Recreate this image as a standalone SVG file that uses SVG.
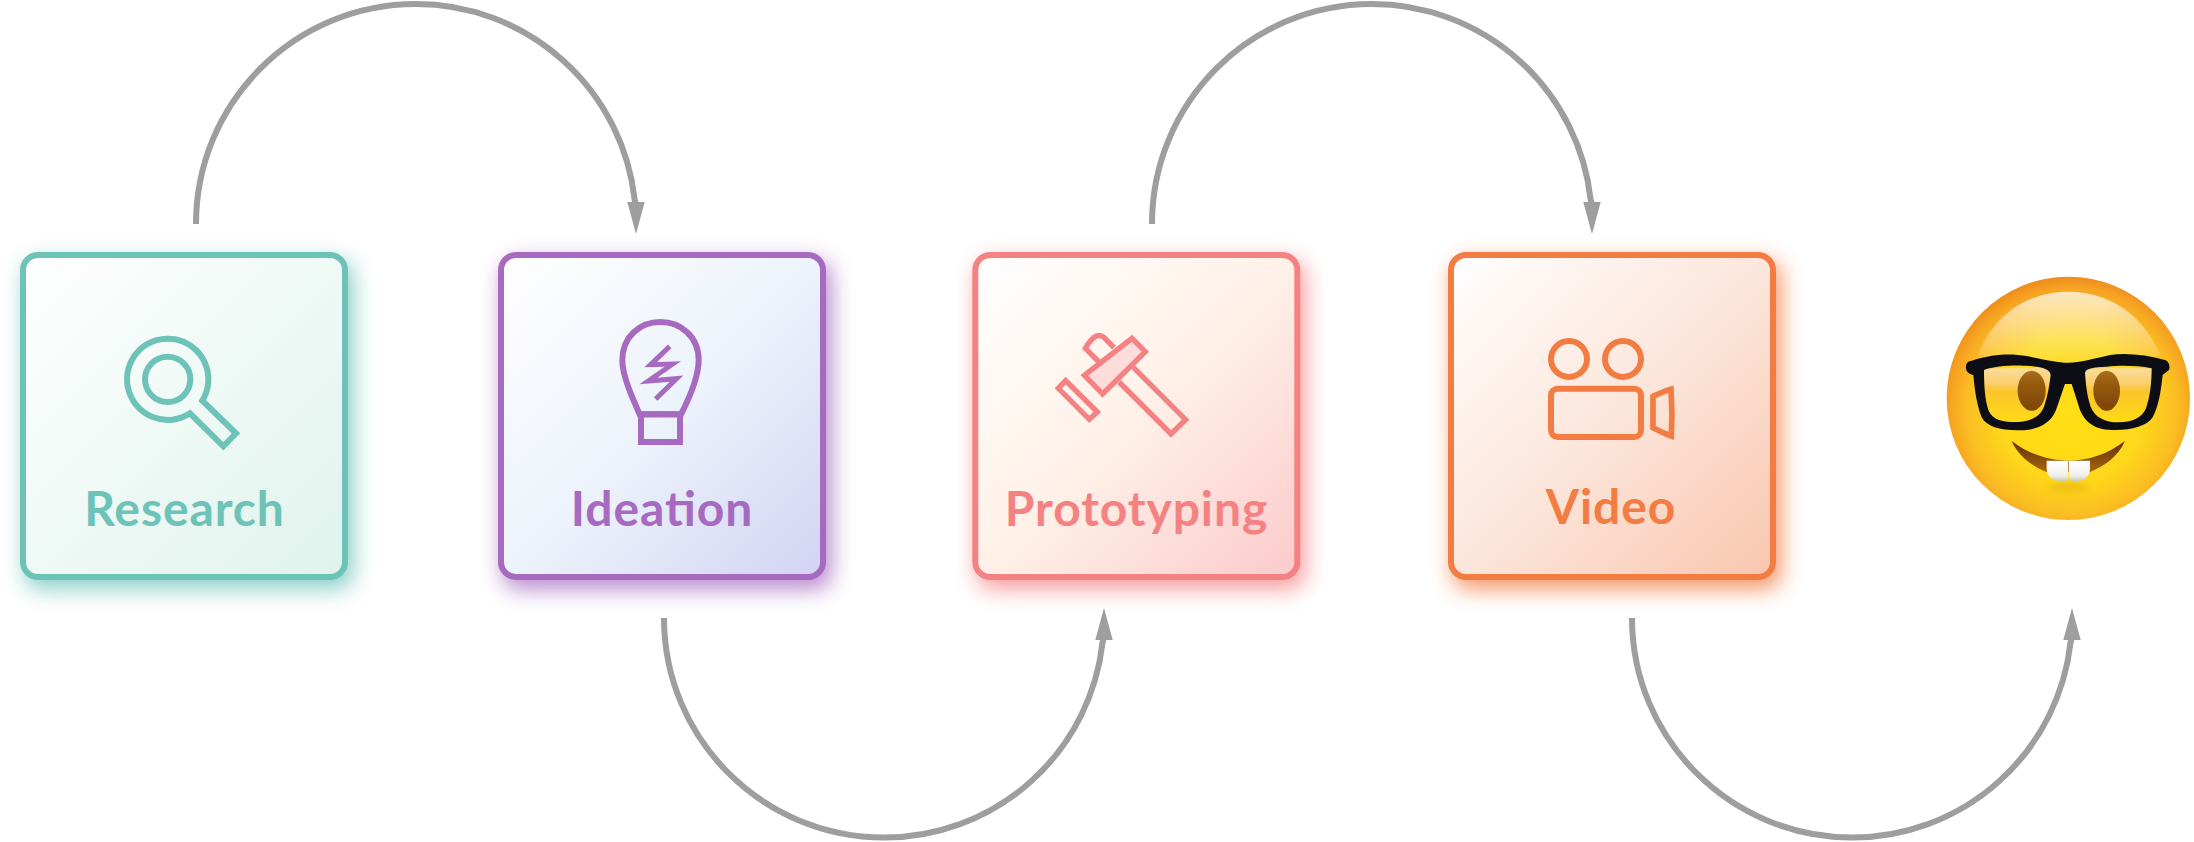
<svg xmlns="http://www.w3.org/2000/svg" width="2194" height="842" viewBox="0 0 2194 842">
<style>
.box{stroke-width:6}
.shadow{filter:url(#soft);opacity:.8}
.ico{fill:none;stroke-width:18;stroke-linejoin:miter}
.lbl{font-family:"Lato","Liberation Sans",sans-serif;font-weight:700;font-size:48px;letter-spacing:.9px;text-anchor:middle;font-feature-settings:"liga" 1}
.conn{fill:none;stroke:#9e9e9e;stroke-width:6}
.down{marker-end:url(#arrowDown)}
.up{marker-end:url(#arrowUp)}
</style>
<defs>
<filter id="soft" x="-20%" y="-20%" width="140%" height="140%"><feGaussianBlur stdDeviation="11"/></filter>
<filter id="soften" x="-5%" y="-5%" width="110%" height="110%"><feGaussianBlur stdDeviation="1.6"/></filter>
<filter id="glow" x="-30%" y="-100%" width="160%" height="300%"><feGaussianBlur stdDeviation="9"/></filter>
<marker id="arrowDown" markerUnits="userSpaceOnUse" markerWidth="36" markerHeight="20" refX="2" refY="8.7" orient="90"><path d="M0 0L32 8.7L0 17.4Z" fill="#9e9e9e"/></marker>
<marker id="arrowUp" markerUnits="userSpaceOnUse" markerWidth="36" markerHeight="20" refX="2" refY="8.7" orient="-90"><path d="M0 0L32 8.7L0 17.4Z" fill="#9e9e9e"/></marker>
<linearGradient id="g1" x1="0" y1="0" x2="1" y2="1"><stop offset="0" stop-color="#fff"/><stop offset="1" stop-color="#dff3ec"/></linearGradient>
<linearGradient id="g2" x1="0" y1="0" x2="1" y2="1"><stop offset="0" stop-color="#fff"/><stop offset=".5" stop-color="#edf3fb"/><stop offset="1" stop-color="#d2d3f3"/></linearGradient>
<linearGradient id="g3" x1="0" y1="0" x2="1" y2="1"><stop offset="0" stop-color="#fff"/><stop offset=".5" stop-color="#fff1e8"/><stop offset="1" stop-color="#fbcaca"/></linearGradient>
<linearGradient id="g4" x1="0" y1="0" x2="1" y2="1"><stop offset="0" stop-color="#fff"/><stop offset=".5" stop-color="#fce6db"/><stop offset="1" stop-color="#f9c6ae"/></linearGradient>
<radialGradient id="face" gradientUnits="userSpaceOnUse" cx="425" cy="450" r="395"><stop offset="0" stop-color="#ffdf16"/><stop offset=".55" stop-color="#fed81a"/><stop offset=".8" stop-color="#fbbd24"/><stop offset=".94" stop-color="#f6a020"/><stop offset="1" stop-color="#ef8f1f"/></radialGradient>
<linearGradient id="shine" x1="0" y1="0" x2="0" y2="1"><stop offset="0" stop-color="#fff" stop-opacity=".72"/><stop offset="1" stop-color="#fff" stop-opacity=".05"/></linearGradient>
<linearGradient id="lens" x1="0" y1="0" x2="0" y2="1"><stop offset="0" stop-color="#f9dc9a"/><stop offset=".28" stop-color="#fbcf6c"/><stop offset=".42" stop-color="#fbc52a"/><stop offset="1" stop-color="#fedb14"/></linearGradient>
<linearGradient id="mouth" x1="0" y1="0" x2="0" y2="1"><stop offset="0" stop-color="#5f2f05"/><stop offset="1" stop-color="#a8660f"/></linearGradient>
<linearGradient id="eye" x1="0" y1="0" x2="0" y2="1"><stop offset="0" stop-color="#a87020"/><stop offset=".35" stop-color="#96590c"/><stop offset="1" stop-color="#7c4604"/></linearGradient>
<linearGradient id="tooth" x1="0" y1="0" x2="0" y2="1"><stop offset="0" stop-color="#fff"/><stop offset=".7" stop-color="#f0f0ec"/><stop offset="1" stop-color="#c8c8c0"/></linearGradient>
</defs>
<g id="connectors">
<path class="conn down" d="M196 224C196 102.5 294.5 4 416 4A220 220 0 0 1 634.7 200L636 204"/>
<path class="conn up" d="M664 618C664 739.2 762.8 837.5 884 837.5A219.5 219.5 0 0 0 1102.6 642L1104 638"/>
<path class="conn down" d="M1152 224C1152 102.5 1250.5 4 1372 4A220 220 0 0 1 1590.7 200L1592 204"/>
<path class="conn up" d="M1632 618C1632 739.2 1730.8 837.5 1852 837.5A219.5 219.5 0 0 0 2070.6 642L2072 638"/>
</g>
<g id="research">
<rect class="shadow" x="25" y="261" width="328" height="328" rx="15" fill="#6dc3b8"/>
<rect class="box" x="23" y="255" width="322" height="322" rx="15" fill="url(#g1)" stroke="#6dc3b8"/>
<g transform="translate(0 230) scale(.33333)" class="ico" stroke="#6dc3b8">
<circle cx="503" cy="448" r="68"/>
<path d="M570 550A122 122 0 1 1 607 512L708 610L670 649Z"/>
</g>
<text class="lbl" x="184.5" y="526" fill="#6dc3b8">Research</text>
</g>
<g id="ideation">
<rect class="shadow" x="503" y="261" width="328" height="328" rx="15" fill="#a66bc0"/>
<rect class="box" x="501" y="255" width="322" height="322" rx="15" fill="url(#g2)" stroke="#a66bc0"/>
<g transform="translate(480 230) scale(.33333)" class="ico" stroke="#a66bc0">
<path d="M479 553C460 510 427 440 427 390C427 320 480 276 541 276C602 276 656 320 656 390C656 440 625 510 603 553Z"/>
<rect x="483" y="553" width="117" height="83"/>
<path style="stroke-width:15" d="M569 349L512 404L578 402L505 453L590 446L527 507"/>
</g>
<text class="lbl" x="662" y="526" fill="#a66bc0">Ideation</text>
</g>
<g id="prototyping">
<rect class="shadow" x="977" y="261" width="328" height="328" rx="15" fill="#f58283"/>
<rect class="box" x="975.3" y="255" width="322" height="322" rx="15" fill="url(#g3)" stroke="#f58283"/>
<g transform="translate(955 230) scale(.33333)" class="ico" stroke="#f58283">
<path style="stroke-width:16" d="M535 412L692 569L648 612L492 456"/>
<path style="stroke-width:16" d="M477 353L447 322Q435 312 420 320Q405 330 391 355L432 396"/>
<path style="stroke-width:16" fill="#fddcdc" d="M388 436L531 325L571 365L443 492Z"/>
<path style="stroke-width:16" d="M332 452L427 546L403 568L310 475Z"/>
</g>
<text class="lbl" x="1136.5" y="526" fill="#f58283">Prototyping</text>
</g>
<g id="video">
<rect class="shadow" x="1453" y="261" width="328" height="328" rx="15" fill="#f27c41"/>
<rect class="box" x="1451" y="255" width="322" height="322" rx="15" fill="url(#g4)" stroke="#f27c41"/>
<g transform="translate(1430 230) scale(.33333)" class="ico" stroke="#f27c41">
<circle cx="417" cy="387" r="54"/>
<circle cx="579" cy="387" r="54"/>
<rect x="363" y="476" width="270" height="145" rx="20"/>
<path style="stroke-width:17" d="M669 499Q700 485 723 478Q728 550 724 618Q695 607 669 593Z"/>
</g>
<text class="lbl" x="1611" y="524" fill="#f27c41">Video</text>
</g>
<g id="emoji" transform="translate(1930 260) scale(.33333)">
<g filter="url(#soften)">
<circle cx="415" cy="415" r="365" fill="url(#face)"/>
<path d="M145 285C190 160 300 95 415 95C530 95 640 160 690 285C600 325 230 325 145 285Z" fill="url(#shine)"/>
<path d="M160 325H365V350L340 450L290 490H210L170 460Z" fill="url(#lens)"/>
<path d="M460 325H670L655 450L600 490H520L480 450Z" fill="url(#lens)"/>
<ellipse cx="305" cy="392" rx="42" ry="60" fill="url(#eye)"/>
<ellipse cx="530" cy="392" rx="40" ry="60" fill="url(#eye)"/>
<path fill="#0f0f12" fill-rule="evenodd" d="M108 318C110 305 118 303 125 302C200 278 250 282 290 288C350 300 380 308 415 308C450 308 490 296 540 285C590 278 650 285 705 300C720 305 720 325 717 330L698 345C692 400 685 440 668 472C650 500 600 512 545 510C490 508 465 485 450 450L425 372H405L378 450C365 485 330 510 270 511C210 512 170 500 155 472C142 440 135 400 130 345C112 340 106 330 108 318ZM162 330C162 380 165 420 176 452C188 478 215 486 255 486C300 486 330 470 342 440C352 410 358 380 362 345C360 325 330 318 280 317C230 316 190 320 162 330ZM465 340C468 380 472 410 482 440C495 472 525 487 565 487C605 487 635 475 648 445C660 410 665 370 665 325C620 316 570 316 530 320C490 322 465 325 465 340Z"/>
<path d="M245 543C300 585 360 602 415 602C470 602 530 585 585 543C565 590 520 620 480 636L350 636C310 620 265 590 245 543Z" fill="url(#mouth)"/>
<path d="M350 602H415V650Q415 665 395 665Q350 660 350 625Z" fill="url(#tooth)"/>
<path d="M417 602H480V625Q480 660 437 665Q417 665 417 650Z" fill="url(#tooth)"/>
</g>
<ellipse cx="415" cy="682" rx="62" ry="10" fill="#d9a20c" opacity=".55" filter="url(#glow)"/>
</g>
</svg>
